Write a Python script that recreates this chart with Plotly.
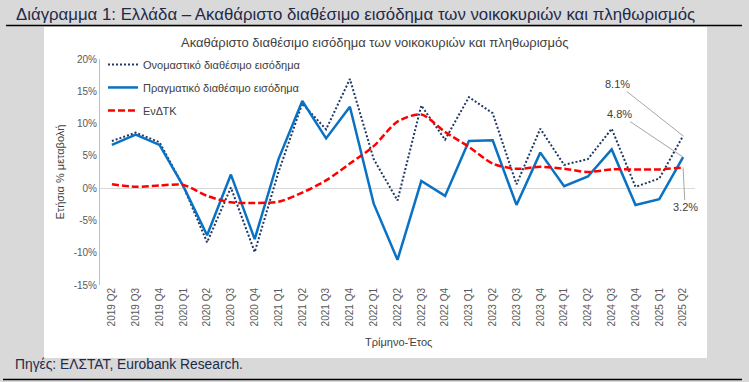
import plotly.graph_objects as go

categories = ["2019 Q2", "2019 Q3", "2019 Q4", "2020 Q1", "2020 Q2", "2020 Q3", "2020 Q4",
              "2021 Q1", "2021 Q2", "2021 Q3", "2021 Q4", "2022 Q1", "2022 Q2", "2022 Q3",
              "2022 Q4", "2023 Q1", "2023 Q2", "2023 Q3", "2023 Q4", "2024 Q1", "2024 Q2",
              "2024 Q3", "2024 Q4", "2025 Q1", "2025 Q2"]

nominal = [7.3, 8.6, 7.1, 0.3, -8.4, 0.1, -9.9, 2.5, 13.1, 9.1, 16.9, 4.5, -1.9, 12.8,
           7.5, 14.1, 11.6, 0.6, 9.2, 3.6, 4.5, 9.2, 0.2, 1.5, 8.1]
real = [6.7, 8.3, 6.7, 0.3, -7.3, 2.1, -7.9, 4.5, 13.5, 7.7, 12.6, -2.4, -11.1, 1.1,
        -1.2, 7.3, 7.4, -2.6, 5.5, 0.3, 1.8, 6.0, -2.6, -1.7, 4.8]
cpi = [0.6, 0.2, 0.4, 0.5, -1.2, -2.2, -2.3, -2.1, -0.7, 1.2, 3.8, 6.5, 10.3, 11.4,
       8.7, 6.4, 3.8, 3.0, 3.3, 3.0, 2.5, 2.9, 2.9, 2.9, 3.2]

series_names = ["Ονομαστικό διαθέσιμο εισόδημα", "Πραγματικό διαθέσιμο εισόδημα", "ΕνΔΤΚ"]

y_tick_vals = [20, 15, 10, 5, 0, -5, -10, -15]
y_tick_text = ["20%", "15%", "10%", "5%", "0%", "-5%", "-10%", "-15%"]

fig_title = "Διάγραμμα 1: Ελλάδα – Ακαθάριστο διαθέσιμο εισόδημα των νοικοκυριών και πληθωρισμός"
chart_title = "Ακαθάριστο διαθέσιμο εισόδημα των νοικοκυριών και πληθωρισμός"
y_title = "Ετήσια % μεταβολή"
x_title = "Τρίμηνο-Έτος"
source = "Πηγές: ΕΛΣΤΑΤ, Eurobank Research."

W, H = 749, 382
PL, PR, PT, PB = 100, 695, 59, 285


def px(x):
    return (x - PL) / (PR - PL)


def py(y):
    return (PB - y) / (PB - PT)


FONT = "Liberation Sans"
TXT = "#404040"
NAVY = "#1F2A4A"

fig = go.Figure()
fig.add_trace(go.Scatter(x=categories, y=nominal, mode="lines", name=series_names[0],
                         legendgroup="a",
                         line=dict(color="#203864", width=2, dash="2px,2px")))
fig.add_trace(go.Scatter(x=categories, y=real, mode="lines", name=series_names[1],
                         legendgroup="b",
                         line=dict(color="#0A72C4", width=2.5)))
fig.add_trace(go.Scatter(x=categories, y=cpi, mode="lines", name=series_names[2],
                         legendgroup="c",
                         line=dict(color="#FF0000", width=2.5, dash="7px,3px",
                                   shape="spline", smoothing=0.8)))

shapes = [
    dict(type="line", xref="paper", yref="paper", x0=px(6), x1=px(742), y0=py(25.5), y1=py(25.5),
         line=dict(color="#000000", width=1.5), layer="below"),
    dict(type="rect", xref="paper", yref="paper", x0=px(44), x1=px(707), y0=py(27), y1=py(358),
         fillcolor="#FFFFFF", line=dict(width=0), layer="below"),
    dict(type="line", xref="paper", yref="paper", x0=px(3), x1=px(742), y0=py(379.5), y1=py(379.5),
         line=dict(color="#000000", width=1.5), layer="below"),
]

last = categories[-1]
annotations = [
    dict(text=fig_title, xref="paper", yref="paper", x=px(14), y=py(15), xanchor="left",
         yanchor="middle", showarrow=False, font=dict(family=FONT, size=16.8, color=NAVY)),
    dict(text=chart_title, xref="paper", yref="paper", x=px(375), y=py(42), xanchor="center",
         yanchor="middle", showarrow=False, font=dict(family=FONT, size=13, color=TXT)),
    dict(text=x_title, xref="paper", yref="paper", x=px(398), y=py(342), xanchor="center",
         yanchor="middle", showarrow=False, font=dict(family=FONT, size=11, color=TXT)),
    dict(text=source, xref="paper", yref="paper", x=px(13), y=py(364), xanchor="left",
         yanchor="middle", showarrow=False, font=dict(family=FONT, size=13.8, color=NAVY)),
    dict(text=f"{nominal[-1]:.1f}%", x=last, y=nominal[-1], ax=-66, ay=-52, showarrow=True,
         arrowhead=0, arrowwidth=1, arrowcolor="#A6A6A6", standoff=0,
         font=dict(family=FONT, size=11, color=TXT)),
    dict(text=f"{real[-1]:.1f}%", x=last, y=real[-1], ax=-64, ay=-43, showarrow=True,
         arrowhead=0, arrowwidth=1, arrowcolor="#A6A6A6", standoff=0,
         font=dict(family=FONT, size=11, color=TXT)),
    dict(text=f"{cpi[-1]:.1f}%", x=last, y=cpi[-1], ax=2, ay=40, showarrow=True,
         arrowhead=0, arrowwidth=1, arrowcolor="#A6A6A6", standoff=0,
         font=dict(family=FONT, size=11, color=TXT)),
]

fig.update_layout(
    width=W, height=H,
    margin=dict(l=PL, r=W - PR, t=PT, b=H - PB, pad=0),
    paper_bgcolor="#D9D9D9",
    plot_bgcolor="rgba(0,0,0,0)",
    font=dict(family=FONT, size=10, color=TXT),
    showlegend=True,
    legend=dict(x=0.005, y=1.04, xanchor="left", yanchor="top", bgcolor="rgba(0,0,0,0)",
                font=dict(family=FONT, size=11, color=TXT), tracegroupgap=4,
                itemwidth=30),
    shapes=shapes,
    annotations=annotations,
    xaxis=dict(type="category", range=[-0.5, len(categories) - 0.5], showgrid=False,
               zeroline=False, showline=False, ticks="", tickangle=-90,
               tickfont=dict(family=FONT, size=10, color="#595959")),
    yaxis=dict(range=[-15, 20], tickvals=y_tick_vals, ticktext=y_tick_text, showgrid=False,
               zeroline=True, zerolinecolor="#D9D9D9", zerolinewidth=1,
               showline=True, linecolor="#BFBFBF", linewidth=1, ticks="",
               tickfont=dict(family=FONT, size=10, color="#595959"),
               title=dict(text=y_title, standoff=6,
                          font=dict(family=FONT, size=11, color=TXT))),
)

fig.write_html("out.html", config={"displayModeBar": False},
               post_script="document.body.style.margin='0';document.body.style.background='#D9D9D9';")
